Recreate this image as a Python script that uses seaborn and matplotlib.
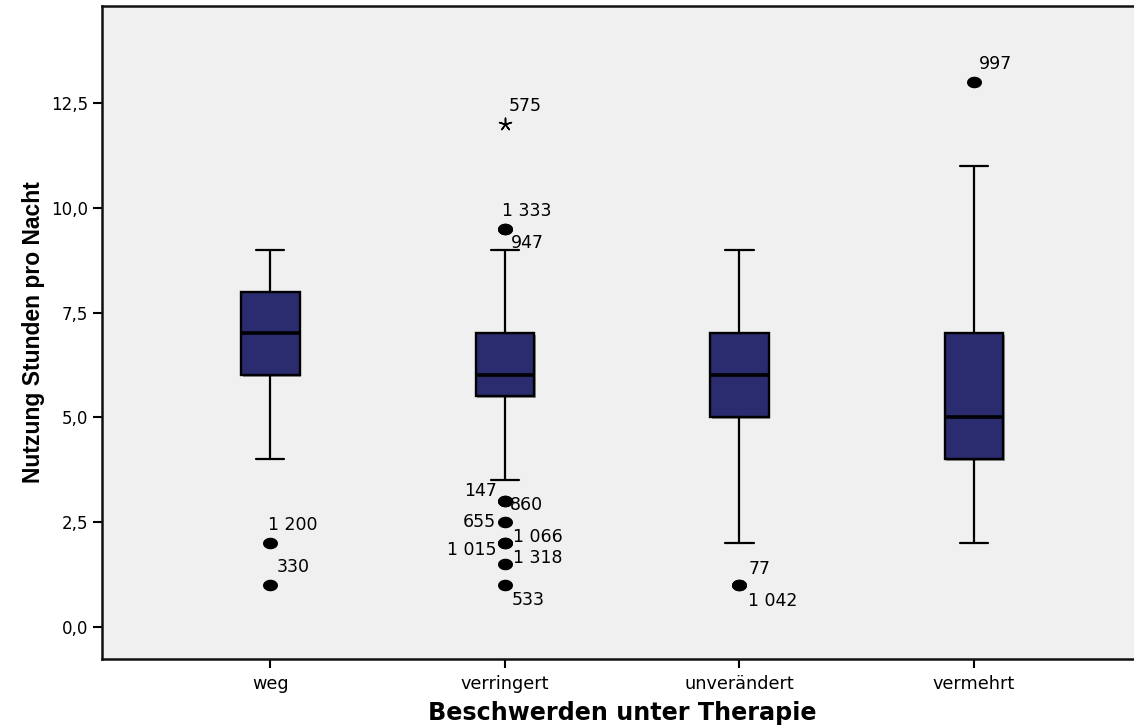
import matplotlib
matplotlib.use("Agg")
import matplotlib.pyplot as plt
import matplotlib.patheffects as pe
from matplotlib.path import Path
import numpy as np
import pandas as pd
import seaborn as sns

# ---- data -------------------------------------------------------------
groups = ["weg", "verringert", "unverändert", "vermehrt"]
q1 = [6.0, 5.5, 5.0, 4.0]
median = [7.0, 6.0, 6.0, 5.0]
q3 = [8.0, 7.0, 7.0, 7.0]
whisker_low = [4.0, 3.5, 2.0, 2.0]
whisker_high = [9.0, 9.0, 9.0, 11.0]

# outliers (circles): group, value, case number
outlier_group = ["weg", "weg",
                 "verringert", "verringert", "verringert", "verringert",
                 "verringert", "verringert", "verringert", "verringert",
                 "verringert",
                 "unverändert", "unverändert",
                 "vermehrt"]
outlier_value = [2.0, 1.0,
                 9.5, 9.5, 3.0, 3.0, 2.5, 2.0, 2.0, 1.5, 1.0,
                 1.0, 1.0,
                 13.0]
outlier_case = ["1 200", "330",
                "1 333", "947", "147", "860", "655", "1 066", "1 015",
                "1 318", "533",
                "77", "1 042",
                "997"]

# extreme values (asterisk)
extreme_group = ["verringert"]
extreme_value = [12.0]
extreme_case = ["575"]

y_ticks = [0.0, 2.5, 5.0, 7.5, 10.0, 12.5]

# label placement around each point: (dx px, dy px, horizontal alignment)
label_offset = {
    "1 200": (-2, 18, "left"), "330": (6, 18, "left"),
    "575": (4, 18, "left"), "1 333": (-3, 18, "left"),
    "947": (6, -14, "left"), "147": (-8, 10, "right"),
    "860": (5, -4, "left"), "655": (-9, 0, "right"),
    "1 066": (8, 6, "left"), "1 015": (-8, -7, "right"),
    "1 318": (8, 6, "left"), "533": (7, -15, "left"),
    "77": (9, 16, "left"), "1 042": (9, -16, "left"),
    "997": (5, 18, "left"),
}

# ---- style ------------------------------------------------------------
sns.set_theme(style="white")
plt.rcParams["font.family"] = ["DejaVu Sans"]

navy = "#2b2b70"
W, H, DPI = 1134, 727, 100
fig = plt.figure(figsize=(W / DPI, H / DPI), dpi=DPI)
ax = fig.add_axes([102 / W, 1 - 659 / H, 1.0 - 102 / W + 0.002, (659 - 6) / H])
ax.set_facecolor("#f0f0f0")

# ---- boxes ------------------------------------------------------------
stats = [dict(label=g, q1=a, med=m, q3=b, whislo=lo, whishi=hi, fliers=[])
         for g, a, m, b, lo, hi in zip(groups, q1, median, q3,
                                       whisker_low, whisker_high)]
bp = ax.bxp(stats, positions=range(len(groups)), widths=0.25, capwidths=0.12,
            patch_artist=True, showfliers=False, manage_ticks=False,
            boxprops=dict(facecolor=navy, edgecolor="black", linewidth=1.7),
            medianprops=dict(color="black", linewidth=2.6, solid_capstyle="butt"),
            whiskerprops=dict(color="black", linewidth=1.6),
            capprops=dict(color="black", linewidth=1.6))
for box in bp["boxes"]:
    box.set_path_effects([pe.SimplePatchShadow(offset=(1.2, -1.2),
                                               shadow_rgbFace="0.55", alpha=0.9),
                          pe.Normal()])
    box.set_zorder(2)

# ---- outliers ---------------------------------------------------------
theta = np.linspace(0, 2 * np.pi, 60)
ellipse = Path(np.column_stack([1.3 * np.cos(theta), np.sin(theta)]), closed=True)

out_df = pd.DataFrame({"group": outlier_group, "value": outlier_value})
sns.stripplot(data=out_df, x="group", y="value", order=groups, jitter=False,
              marker=ellipse, size=10.8, color="black", linewidth=0, ax=ax,
              zorder=3)

ext_df = pd.DataFrame({"group": extreme_group, "value": extreme_value})
sns.stripplot(data=ext_df, x="group", y="value", order=groups, jitter=False,
              marker=(5, 2, 0), size=9, color="black", linewidth=1.1, ax=ax,
              zorder=3)

pos = {g: i for i, g in enumerate(groups)}
for g, v, c in list(zip(outlier_group, outlier_value, outlier_case)) + \
        list(zip(extreme_group, extreme_value, extreme_case)):
    dx, dy, ha = label_offset[c]
    ax.annotate(c, xy=(pos[g], v), xytext=(dx * 0.72, dy * 0.72),
                textcoords="offset points", ha=ha, va="center",
                fontsize=12.5, color="black", zorder=4)

# ---- axes -------------------------------------------------------------
ax.set_xlim(-0.718, 3.692)
ax.set_ylim(-0.763, 14.81)
ax.set_xticks(range(len(groups)))
ax.set_xticklabels(groups, fontsize=12.7)
ax.set_yticks(y_ticks)
ax.set_yticklabels([f"{t:.1f}".replace(".", ",") for t in y_ticks], fontsize=12)
ax.tick_params(axis="both", which="major", direction="out", length=6.5,
               width=1.5, color="black", labelcolor="black", bottom=True, left=True)
ax.tick_params(axis="x", pad=5)
ax.tick_params(axis="y", pad=3.6)

for side in ["left", "bottom", "top"]:
    ax.spines[side].set_visible(True)
    ax.spines[side].set_color("#111111")
    ax.spines[side].set_linewidth(1.8)
ax.spines["right"].set_visible(False)
ax.grid(False)

ax.set_xlabel("Beschwerden unter Therapie", fontsize=17.2, fontweight="bold",
              color="black")
ax.xaxis.set_label_coords(0.503, -0.064)
ax.set_ylabel("Nutzung Stunden pro Nacht", fontsize=16.5, fontweight="bold",
              color="black", family=["Liberation Sans"])
ax.yaxis.set_label_coords(-0.055, 0.5)

fig.savefig("out.png", dpi=DPI)
